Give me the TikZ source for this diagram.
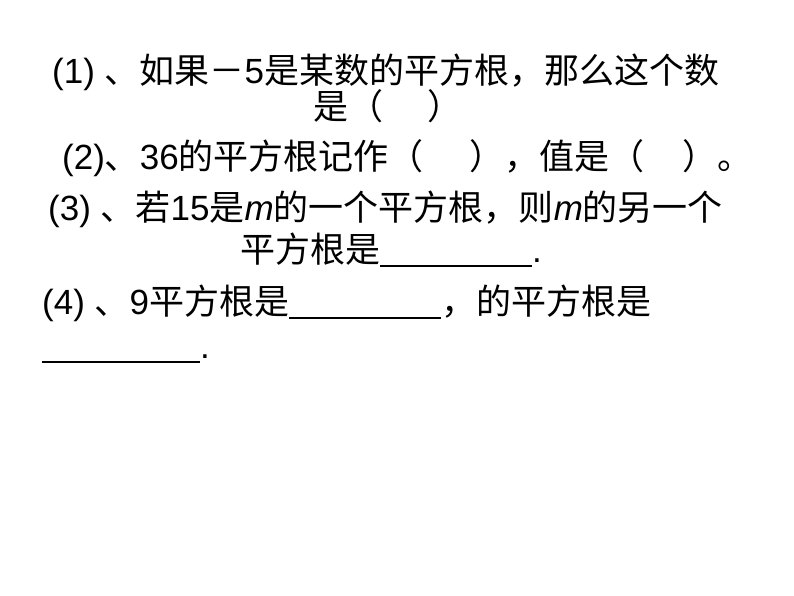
\documentclass[tikz,border=0pt]{standalone}
\usepackage{fontspec}
\setmainfont{Liberation Sans}
\newfontfamily\cjk{Noto Sans CJK SC}
\begin{document}
\begin{tikzpicture}[x=1pt,y=-1pt,every node/.style={anchor=base west,inner sep=0pt,font=\fontsize{35}{40}\selectfont}]
\useasboundingbox (0,0) rectangle (794,596);
\newcommand\blank[1]{\rule[-0.15em]{#1pt}{0.055em}}
\node (l1) at (52,84) {(1) {\cjk 、如果－}5{\cjk 是某数的平方根，那么这个数}};
\node (l2) at (313,120) {{\cjk 是（}\hspace{44pt}{\cjk ）}};
\node (l3) at (62,170) {(2){\cjk 、}36{\cjk 的平方根记作（}\hspace{46pt}{\cjk ），值是（}\hspace{38pt}{\cjk ）。}};
\node (l4) at (48,220) {(3) {\cjk 、若}15{\cjk 是}\textit{m}{\cjk 的一个平方根，则}\textit{m}{\cjk 的另一个}};
\node (l5) at (240,262) {{\cjk 平方根是}\blank{152}.};
\node (l6) at (42,314) {(4) {\cjk 、}9{\cjk 平方根是}\blank{152}{\cjk ，的平方根是}};
\node (l7) at (42,358) {\blank{158}.};
\end{tikzpicture}
\end{document}
